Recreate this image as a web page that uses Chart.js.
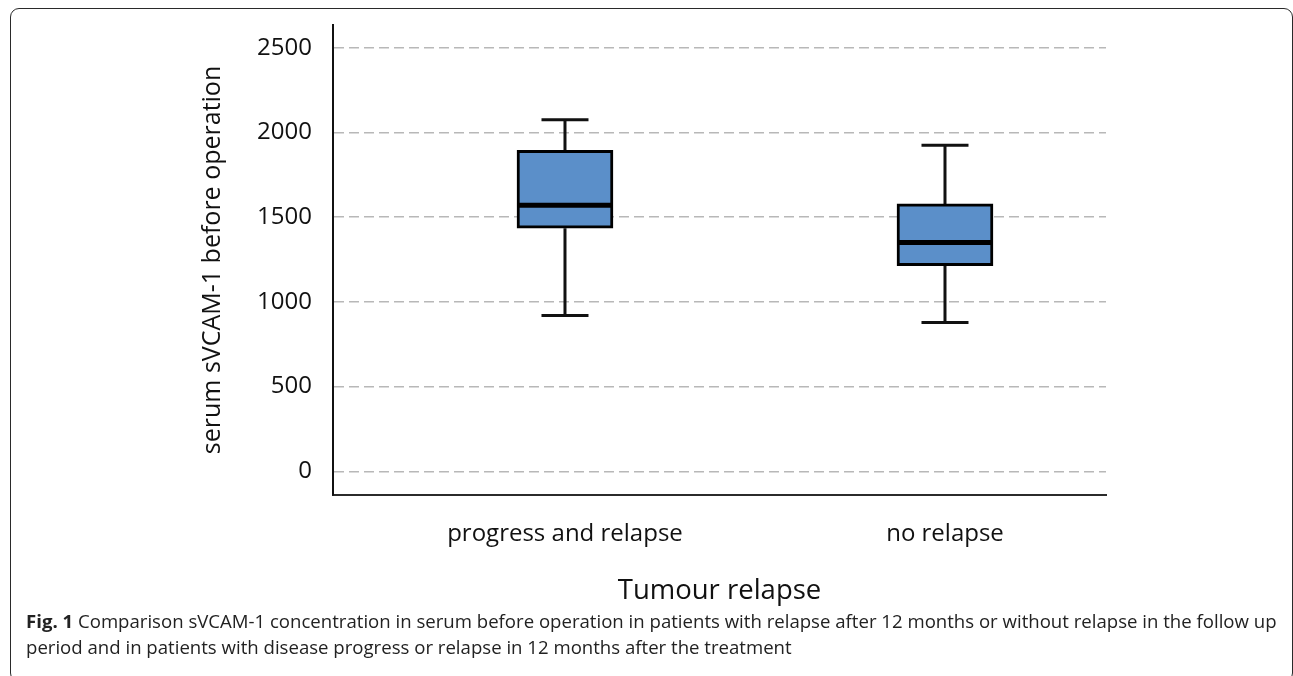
<!DOCTYPE html>
<html>
<head>
<meta charset="utf-8">
<script src="https://cdn.jsdelivr.net/npm/chart.js@4.4.1/dist/chart.umd.min.js"></script>
<style>
  html, body { margin: 0; padding: 0; background: #ffffff; }
  #wrap { position: relative; width: 1293px; height: 676px; overflow: hidden; }
  #frame {
    position: absolute; left: 10px; top: 8px; width: 1283px; height: 674px;
    border: 1.5px solid #2a2a2a; border-radius: 9px; box-sizing: border-box;
  }
  canvas { position: absolute; left: 0; top: 0; }
  #caption {
    position: absolute; left: 26px; top: 608px; width: 1265px; white-space: nowrap;
    font-family: "Open Sans", sans-serif; font-size: 18.6px; line-height: 26px; color: #222;
  }
  #caption b { font-weight: 700; }
</style>
</head>
<body>
<div id="wrap">
  <div id="frame"></div>
  <canvas id="chart" width="1293" height="676"></canvas>
  <div id="caption"><b>Fig. 1</b> Comparison sVCAM-1 concentration in serum before operation in patients with relapse after 12 months or without relapse in the follow up<br>period and in patients with disease progress or relapse in 12 months after the treatment</div>
</div>
<script>
// Groups and five-number summaries of serum sVCAM-1
const categories = ['progress and relapse', 'no relapse'];
const whiskerLow = [920, 878];
const q1 = [1435, 1213];
const median = [1570, 1350];
const q3 = [1895, 1578];
const whiskerHigh = [2075, 1925];
const yTicks = [0, 500, 1000, 1500, 2000, 2500];

const boxFill = '#5b8fc9';
const ink = '#111111';

// Whiskers go under the boxes, medians over them
const boxExtras = {
  id: 'boxExtras',
  beforeDatasetsDraw(chart) {
    const { ctx, scales: { x, y } } = chart;
    ctx.save();
    ctx.strokeStyle = ink;
    ctx.lineWidth = 3;
    ctx.lineCap = 'butt';
    categories.forEach((c, i) => {
      const cx = x.getPixelForValue(i + 1);
      const capHalf = 23.5;
      const yLo = y.getPixelForValue(whiskerLow[i]);
      const yHi = y.getPixelForValue(whiskerHigh[i]);
      const yQ1 = y.getPixelForValue(q1[i]);
      const yQ3 = y.getPixelForValue(q3[i]);
      ctx.beginPath();
      ctx.moveTo(cx, yHi); ctx.lineTo(cx, yQ3);
      ctx.moveTo(cx, yQ1); ctx.lineTo(cx, yLo);
      ctx.moveTo(cx - capHalf, yHi); ctx.lineTo(cx + capHalf, yHi);
      ctx.moveTo(cx - capHalf, yLo); ctx.lineTo(cx + capHalf, yLo);
      ctx.stroke();
    });
    ctx.restore();
  },
  afterDatasetsDraw(chart) {
    const { ctx, scales: { y } } = chart;
    const meta = chart.getDatasetMeta(0);
    ctx.save();
    ctx.strokeStyle = '#000000';
    ctx.lineWidth = 5;
    categories.forEach((c, i) => {
      const bar = meta.data[i];
      const half = bar.width / 2;
      const ym = y.getPixelForValue(median[i]);
      ctx.beginPath();
      ctx.moveTo(bar.x - half, ym);
      ctx.lineTo(bar.x + half, ym);
      ctx.stroke();
    });
    ctx.restore();
  }
};

new Chart(document.getElementById('chart'), {
  type: 'bar',
  data: {
    datasets: [{
      data: categories.map((c, i) => ({ x: i + 1, y: [q1[i], q3[i]] })),
      backgroundColor: boxFill,
      borderColor: '#000000',
      borderWidth: 3,
      borderSkipped: false,
      barThickness: 96
    }]
  },
  options: {
    responsive: false,
    animation: false,
    layout: { padding: { left: 0, top: 25, right: 187, bottom: 65 } },
    plugins: { legend: { display: false }, tooltip: { enabled: false } },
    scales: {
      x: {
        type: 'linear',
        offset: false,
        min: 0.3895,
        max: 2.4237,
        afterBuildTicks(scale) { scale.ticks = categories.map((c, i) => ({ value: i + 1 })); },
        afterFit(scale) {
          scale.height = 116;
          scale.paddingLeft = 0;
          scale.paddingRight = 0;
        },
        ticks: {
          callback: (v) => categories[Math.round(v) - 1] || '',
          font: { family: 'Open Sans', size: 24 },
          color: ink,
          padding: 25,
          maxRotation: 0
        },
        grid: { display: false, drawTicks: false },
        border: { display: true, color: '#2b2b2b', width: 2 },
        title: {
          display: true,
          text: 'Tumour relapse',
          font: { family: 'Open Sans', size: 27.5 },
          color: ink,
          padding: { top: 0, bottom: 3.5 }
        }
      },
      y: {
        min: -140,
        max: 2634,
        afterBuildTicks(scale) { scale.ticks = yTicks.map(v => ({ value: v })); },
        afterFit(scale) {
          scale.width = 333;
          scale.paddingTop = 0;
          scale.paddingBottom = 0;
        },
        ticks: {
          callback: (v) => String(v),
          font: { family: 'Open Sans', size: 24 },
          color: ink,
          padding: 21
        },
        grid: { color: '#b8b8b8', lineWidth: 1.5, drawTicks: false },
        border: { display: true, color: '#111111', width: 2, dash: [10, 5] },
        title: {
          display: true,
          text: 'serum sVCAM-1 before operation',
          font: { family: 'Open Sans', size: 25 },
          color: ink,
          padding: { top: 198, bottom: 0 }
        }
      }
    }
  },
  plugins: [boxExtras]
});
</script>
</body>
</html>
